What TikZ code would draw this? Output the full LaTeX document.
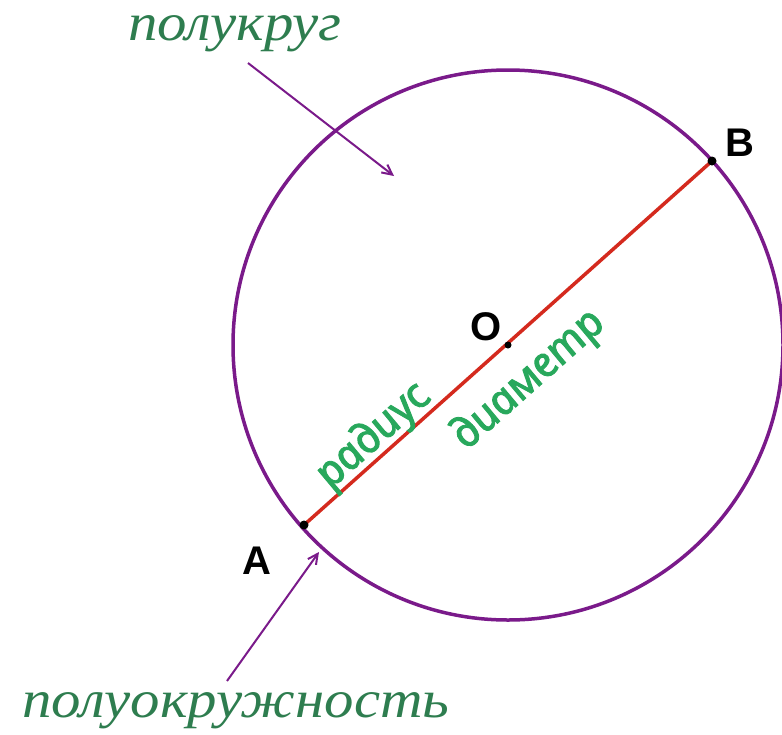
\documentclass[tikz,border=0pt]{standalone}
\usepackage{fontspec}
\setmainfont{Liberation Serif}
\newfontfamily\lsans{Liberation Sans}
\newfontfamily\nsans{Noto Sans}[FakeBold=2.2]
\usetikzlibrary{arrows.meta}
\definecolor{circ}{HTML}{7A1A8A}
\definecolor{diam}{HTML}{D42A1E}
\definecolor{dgreen}{HTML}{2E7D4F}
\definecolor{lgreen}{HTML}{28A85C}
\begin{document}
\begin{tikzpicture}[x=1pt,y=-1pt,
  title/.style={text=dgreen,font=\fontsize{53}{60}\selectfont\itshape,inner sep=0pt,anchor=base,xscale=1.11},
  lbl/.style={text=lgreen,font=\nsans\itshape\fontsize{43}{48}\selectfont,inner sep=0pt,rotate=41.7,xslant=-0.18},
  pt/.style={font=\lsans\bfseries\fontsize{40}{46}\selectfont,inner sep=0pt},
  pointer/.style={circ,line width=2pt,-{Straight Barb[length=10pt,width=10pt,line width=2pt]}},
  dot/.style={circle,fill=black,inner sep=0pt,minimum size=9pt}]
\useasboundingbox (0,0) rectangle (782,734);
\coordinate (O) at (508,345);
\coordinate (A) at (304,525);
\coordinate (B) at (712,161);
\draw[circ,line width=3.5pt] (O) circle[radius=275];
\draw[diam,line width=3.5pt] (A) -- (B);
\node[dot] (dA) at (A) {};
\node[dot] (dB) at (B) {};
\node[dot,minimum size=7pt] (dO) at (O) {};
\node[pt] (lO) at (486,327) {O};
\node[pt] (lA) at (257,561) {A};
\node[pt] (lB) at (740,143) {B};
\node[lbl] (rad) at (374,436) {радиус};
\node[lbl] (dia) at (529,380) {диаметр};
\node[title] (semi) at (235,40) {полукруг};
\node[title] (semic) at (236,717) {полуокружность};
\coordinate (s1) at (248,63);
\coordinate (e1) at (394,176);
\coordinate (s2) at (227,681);
\coordinate (e2) at (319,552);
\draw[pointer] (s1) -- (e1);
\draw[pointer] (s2) -- (e2);
\end{tikzpicture}
\end{document}
